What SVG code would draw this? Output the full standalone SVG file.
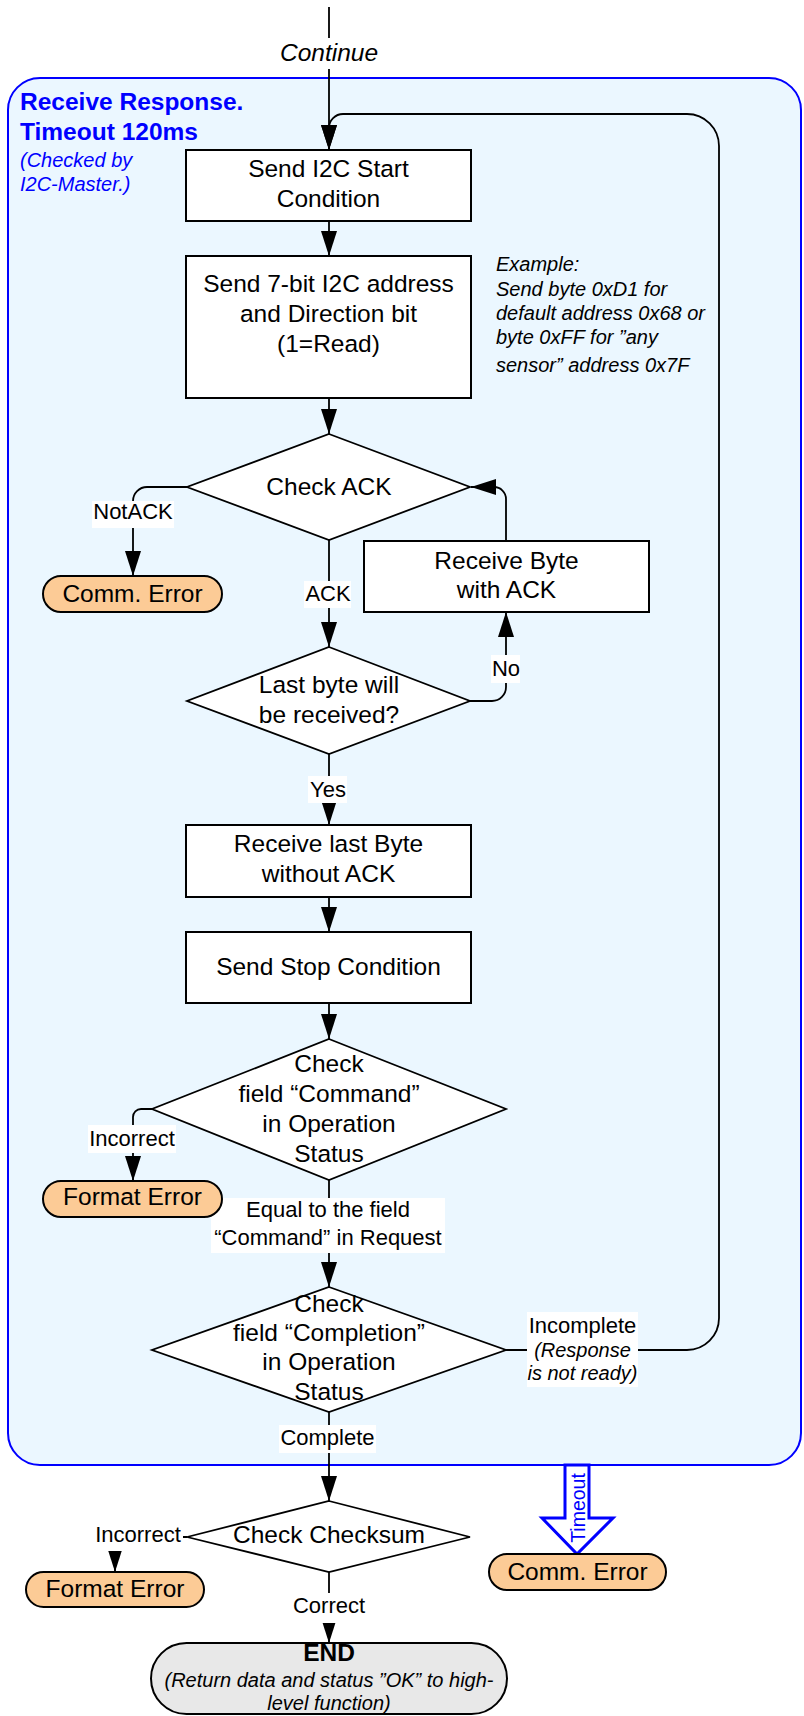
<svg xmlns="http://www.w3.org/2000/svg" width="804" height="1716" viewBox="0 0 804 1716">
<defs>
<marker id="arr" markerUnits="userSpaceOnUse" markerWidth="25" markerHeight="16" refX="25" refY="8" orient="auto">
<path d="M0,0 L25,8 L0,16 z" fill="#000"/>
</marker>
<style>
text{font-family:"Liberation Sans",Arial,sans-serif;fill:#000}
.m{font-size:24.5px;text-anchor:middle}
.l{font-size:22px;text-anchor:middle}
.i{font-style:italic}
.box{fill:#fff;stroke:#000;stroke-width:2}
.dia{fill:#fff;stroke:#000;stroke-width:1.8}
.term{fill:#FCCB96;stroke:#000;stroke-width:2}
.con{fill:none;stroke:#000;stroke-width:1.8}
.lbg{fill:#fff}
.blue{fill:#0000FF}
</style>
</defs>
<rect width="804" height="1716" fill="#fff"/>

<g id="container">
<rect x="8" y="78" width="793" height="1387" rx="32" ry="32" fill="#EBF7FF" stroke="#0000FF" stroke-width="2"/>
<text x="20" y="110" class="blue" style="font-size:24.5px;font-weight:bold">Receive Response.</text>
<text x="20" y="140" class="blue" style="font-size:24.5px;font-weight:bold">Timeout 120ms</text>
<text x="20" y="167" class="blue i" style="font-size:20px">(Checked by</text>
<text x="20" y="191" class="blue i" style="font-size:20px">I2C-Master.)</text>
</g>

<g id="connectors">
<path class="con" d="M329,7 V150" marker-end="url(#arr)"/>
<path class="con" d="M329,221 V256" marker-end="url(#arr)"/>
<path class="con" d="M329,398 V434" marker-end="url(#arr)"/>
<path class="con" d="M187,487 H147 A14,14 0 0 0 133,501 V576" marker-end="url(#arr)"/>
<path class="con" d="M329,540 V647" marker-end="url(#arr)"/>
<path class="con" d="M506,541 V499 A12,12 0 0 0 494,487 H471" marker-end="url(#arr)"/>
<path class="con" d="M470,701 H492 A14,14 0 0 0 506,687 V612" marker-end="url(#arr)"/>
<path class="con" d="M329,754 V825" marker-end="url(#arr)"/>
<path class="con" d="M329,897 V932" marker-end="url(#arr)"/>
<path class="con" d="M329,1003 V1039" marker-end="url(#arr)"/>
<path class="con" d="M152,1109 H141 A8,8 0 0 0 133,1117 V1181" marker-end="url(#arr)"/>
<path class="con" d="M329,1180 V1287" marker-end="url(#arr)"/>
<path class="con" d="M506,1350 H687 A32,32 0 0 0 719,1318 V146 A32,32 0 0 0 687,114 H343 A14,14 0 0 0 329,128 V150" marker-end="url(#arr)"/>
<path class="con" d="M329,1412 V1501" marker-end="url(#arr)"/>
<path class="con" d="M187,1537 H115 V1572" marker-end="url(#arr)"/>
<path class="con" d="M329,1572 V1643" marker-end="url(#arr)"/>
<polygon points="565,1465 589,1465 589,1518 613,1518 577,1554 542,1518 565,1518" fill="#fff" stroke="#0000FF" stroke-width="3" stroke-linejoin="miter"/>
<text transform="translate(585,1508) rotate(-90)" text-anchor="middle" class="blue" style="font-size:19.5px">Timeout</text>

<rect class="lbg" x="280" y="38" width="98" height="31"/>
<text x="329" y="61" class="m i">Continue</text>
<rect class="lbg" x="92" y="501" width="82" height="27"/>
<text x="133" y="519" class="l">NotACK</text>
<rect class="lbg" x="304" y="581" width="47" height="27"/>
<text x="328" y="601" class="l">ACK</text>
<rect class="lbg" x="491" y="655" width="29" height="28"/>
<text x="506" y="676" class="l">No</text>
<rect class="lbg" x="308" y="776" width="39" height="27"/>
<text x="328" y="797" class="l">Yes</text>
<rect class="lbg" x="88" y="1125" width="88" height="28"/>
<text x="132" y="1146" class="l">Incorrect</text>
<rect class="lbg" x="211" y="1198" width="234" height="55"/>
<text x="328" y="1217" class="l">Equal to the field</text>
<text x="328" y="1245" class="l">“Command” in Request</text>
<rect class="lbg" x="527" y="1312" width="111" height="75"/>
<text x="582.5" y="1333" class="l">Incomplete</text>
<text x="582.5" y="1357" class="l i" style="font-size:20px">(Response</text>
<text x="582.5" y="1380" class="l i" style="font-size:20px">is not ready)</text>
<rect class="lbg" x="279" y="1425" width="97" height="28"/>
<text x="327.5" y="1445" class="l">Complete</text>
<rect class="lbg" x="93" y="1524" width="90" height="27"/>
<text x="138" y="1542" class="l">Incorrect</text>
<rect class="lbg" x="291" y="1593" width="76" height="30"/>
<text x="329" y="1613" class="l">Correct</text>
</g>

<g id="n_start">
<rect class="box" x="186" y="150" width="285" height="71"/>
<text x="328.5" y="177" class="m">Send I2C Start</text>
<text x="328.5" y="207" class="m">Condition</text>
</g>

<g id="n_addr">
<rect class="box" x="186" y="256" width="285" height="142"/>
<text x="328.5" y="292" class="m">Send 7-bit I2C address</text>
<text x="328.5" y="322" class="m">and Direction bit</text>
<text x="328.5" y="352" class="m">(1=Read)</text>
</g>

<g id="note">
<text x="496" y="271" class="i" style="font-size:20px">Example:</text>
<text x="496" y="296" class="i" style="font-size:20px">Send byte 0xD1 for</text>
<text x="496" y="320" class="i" style="font-size:20px">default address 0x68 or</text>
<text x="496" y="344" class="i" style="font-size:20px">byte 0xFF for ”any</text>
<text x="496" y="372" class="i" style="font-size:20px">sensor” address 0x7F</text>
</g>

<g id="d_ack">
<polygon class="dia" points="329,434 470,487 329,540 187,487"/>
<text x="329" y="495" class="m">Check ACK</text>
</g>

<g id="t_comm1">
<rect class="term" x="43" y="576" width="179" height="36" rx="18" ry="18"/>
<text x="132.5" y="602" class="m">Comm. Error</text>
</g>

<g id="n_recvbyte">
<rect class="box" x="364" y="541" width="285" height="71"/>
<text x="506.5" y="569" class="m">Receive Byte</text>
<text x="506.5" y="598" class="m">with ACK</text>
</g>

<g id="d_last">
<polygon class="dia" points="329,647 470,701 329,754 187,701"/>
<text x="329" y="693" class="m">Last byte will</text>
<text x="329" y="723" class="m">be received?</text>
</g>

<g id="n_recvlast">
<rect class="box" x="186" y="825" width="285" height="72"/>
<text x="328.5" y="852" class="m">Receive last Byte</text>
<text x="328.5" y="882" class="m">without ACK</text>
</g>

<g id="n_stop">
<rect class="box" x="186" y="932" width="285" height="71"/>
<text x="328.5" y="975" class="m">Send Stop Condition</text>
</g>

<g id="d_command">
<polygon class="dia" points="329,1039 506,1109 329,1180 152,1109"/>
<text x="329" y="1072" class="m">Check</text>
<text x="329" y="1102" class="m">field “Command”</text>
<text x="329" y="1132" class="m">in Operation</text>
<text x="329" y="1162" class="m">Status</text>
</g>

<g id="t_format1">
<rect class="term" x="43" y="1181" width="179" height="36" rx="18" ry="18"/>
<text x="132.5" y="1205" class="m">Format Error</text>
</g>

<g id="d_completion">
<polygon class="dia" points="329,1287 506,1350 329,1412 152,1350"/>
<text x="329" y="1312" class="m">Check</text>
<text x="329" y="1341" class="m">field “Completion”</text>
<text x="329" y="1370" class="m">in Operation</text>
<text x="329" y="1400" class="m">Status</text>
</g>

<g id="d_checksum">
<polygon class="dia" points="329,1501 470,1537 329,1572 187,1537"/>
<text x="329" y="1543" class="m">Check Checksum</text>
</g>

<g id="t_format2">
<rect class="term" x="26" y="1572" width="178" height="35" rx="17.5" ry="17.5"/>
<text x="115" y="1597" class="m">Format Error</text>
</g>

<g id="t_comm2">
<rect class="term" x="489" y="1554" width="177" height="36" rx="18" ry="18"/>
<text x="577.5" y="1580" class="m">Comm. Error</text>
</g>

<g id="t_end">
<rect x="151" y="1643" width="356" height="71" rx="35.5" ry="35.5" fill="#E8E8E8" stroke="#000" stroke-width="2"/>
<text x="329" y="1661" class="m" style="font-weight:bold">END</text>
<text x="329" y="1687" class="i" style="font-size:20px;text-anchor:middle">(Return data and status ”OK” to high-</text>
<text x="329" y="1710" class="i" style="font-size:20px;text-anchor:middle">level function)</text>
</g>
</svg>
